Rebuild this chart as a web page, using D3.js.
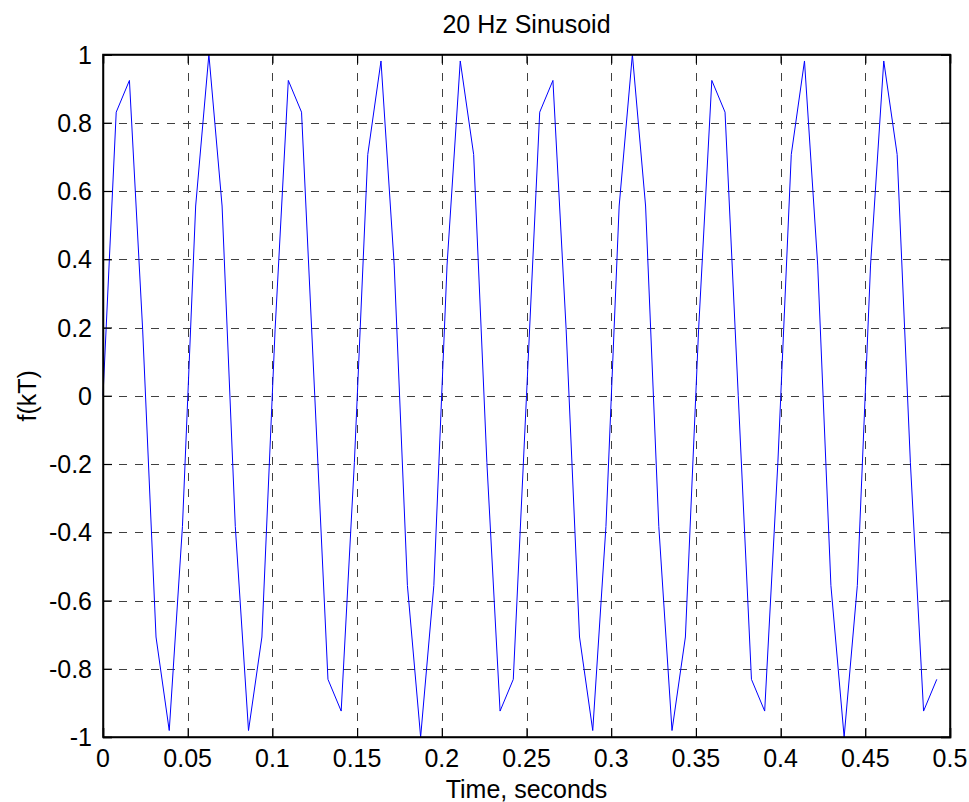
<!DOCTYPE html>
<html>
<head>
<meta charset="utf-8">
<script src="https://cdn.jsdelivr.net/npm/d3@7"></script>
<style>
  html, body { margin: 0; padding: 0; background: #fff; }
  svg { display: block; }
  text { font-family: "Liberation Sans", Arial, Helvetica, sans-serif; fill: #000; }
</style>
</head>
<body>
<svg id="chart" width="969" height="802"></svg>
<script>
// ---- data ----
const title = "20 Hz Sinusoid";
const xLabel = "Time, seconds";
const yLabel = "f(kT)";

const sampleTimes = [
  0, 0.0078, 0.0156, 0.0234, 0.0313, 0.0391, 0.0469, 0.0547,
  0.0625, 0.0703, 0.0781, 0.0859, 0.0938, 0.1016, 0.1094, 0.1172,
  0.125, 0.1328, 0.1406, 0.1484, 0.1563, 0.1641, 0.1719, 0.1797,
  0.1875, 0.1953, 0.2031, 0.2109, 0.2188, 0.2266, 0.2344, 0.2422,
  0.25, 0.2578, 0.2656, 0.2734, 0.2813, 0.2891, 0.2969, 0.3047,
  0.3125, 0.3203, 0.3281, 0.3359, 0.3438, 0.3516, 0.3594, 0.3672,
  0.375, 0.3828, 0.3906, 0.3984, 0.4063, 0.4141, 0.4219, 0.4297,
  0.4375, 0.4453, 0.4531, 0.4609, 0.4688, 0.4766, 0.4844, 0.4922
];

const sampleValues = [
  0, 0.831, 0.924, 0.195, -0.707, -0.981, -0.383, 0.556,
  1, 0.556, -0.383, -0.981, -0.707, 0.195, 0.924, 0.831,
  0, -0.831, -0.924, -0.195, 0.707, 0.981, 0.383, -0.556,
  -1, -0.556, 0.383, 0.981, 0.707, -0.195, -0.924, -0.831,
  0, 0.831, 0.924, 0.195, -0.707, -0.981, -0.383, 0.556,
  1, 0.556, -0.383, -0.981, -0.707, 0.195, 0.924, 0.831,
  0, -0.831, -0.924, -0.195, 0.707, 0.981, 0.383, -0.556,
  -1, -0.556, 0.383, 0.981, 0.707, -0.195, -0.924, -0.831
];

const xTicks = [0, 0.05, 0.1, 0.15, 0.2, 0.25, 0.3, 0.35, 0.4, 0.45, 0.5];
const xTickLabels = ["0", "0.05", "0.1", "0.15", "0.2", "0.25", "0.3", "0.35", "0.4", "0.45", "0.5"];
const yTicks = [-1, -0.8, -0.6, -0.4, -0.2, 0, 0.2, 0.4, 0.6, 0.8, 1];
const yTickLabels = ["-1", "-0.8", "-0.6", "-0.4", "-0.2", "0", "0.2", "0.4", "0.6", "0.8", "1"];

// ---- layout ----
const L = 103, R = 950, T = 54.5, B = 737;
const fontSize = 25;
const tickLen = 9;

const svg = d3.select("#chart");
const x = d3.scaleLinear().domain([0, 0.5]).range([L, R]);
const y = d3.scaleLinear().domain([-1, 1]).range([B, T]);

// grid
const grid = svg.append("g").attr("stroke", "#404040").attr("stroke-width", 1)
  .attr("stroke-dasharray", "8,8").attr("fill", "none");
grid.selectAll("line.vx").data(xTicks.slice(1, -1)).join("line")
  .attr("x1", d => Math.round(x(d)) + 0.5).attr("x2", d => Math.round(x(d)) + 0.5)
  .attr("y1", B).attr("y2", T);
grid.selectAll("line.hy").data(yTicks.slice(1, -1)).join("line")
  .attr("class", "hy")
  .attr("y1", d => Math.round(y(d)) + 0.5).attr("y2", d => Math.round(y(d)) + 0.5)
  .attr("x1", L).attr("x2", R);

// data line
const line = d3.line().x((d, i) => x(sampleTimes[i])).y(d => y(d));
svg.append("path").datum(sampleValues)
  .attr("d", line).attr("fill", "none").attr("stroke", "#0000ff").attr("stroke-width", 1);

// axes (box with inward ticks on all sides)
const xAxisB = d3.axisBottom(x).tickValues(xTicks).tickSize(-tickLen).tickFormat("");
const xAxisT = d3.axisTop(x).tickValues(xTicks).tickSize(-tickLen).tickFormat("");
const yAxisL = d3.axisLeft(y).tickValues(yTicks).tickSize(-tickLen).tickFormat("");
const yAxisR = d3.axisRight(y).tickValues(yTicks).tickSize(-tickLen).tickFormat("");

function styleAxis(g) {
  g.selectAll("path.domain").attr("stroke", "#000").attr("stroke-width", 1.5);
  g.selectAll(".tick line").attr("stroke", "#000").attr("stroke-width", 1.2);
}
svg.append("g").attr("transform", `translate(0,${B})`).call(xAxisB).call(styleAxis);
svg.append("g").attr("transform", `translate(0,${T})`).call(xAxisT).call(styleAxis);
svg.append("g").attr("transform", `translate(${L},0)`).call(yAxisL).call(styleAxis);
svg.append("g").attr("transform", `translate(${R},0)`).call(yAxisR).call(styleAxis);
svg.selectAll("path.domain").each(function() {});
svg.append("rect").attr("x", L).attr("y", T).attr("width", R - L).attr("height", B - T)
  .attr("fill", "none").attr("stroke", "#000").attr("stroke-width", 1.5);

// tick labels
svg.append("g").selectAll("text").data(xTicks).join("text")
  .attr("x", d => x(d)).attr("y", 767)
  .attr("text-anchor", "middle").attr("font-size", fontSize)
  .text((d, i) => xTickLabels[i]);
svg.append("g").selectAll("text").data(yTicks).join("text")
  .attr("x", 92).attr("y", d => y(d)).attr("dy", "0.36em")
  .attr("text-anchor", "end").attr("font-size", fontSize)
  .text((d, i) => yTickLabels[i]);

// title and labels
svg.append("text").attr("x", (L + R) / 2).attr("y", 33)
  .attr("text-anchor", "middle").attr("font-size", fontSize).text(title);
svg.append("text").attr("x", (L + R) / 2).attr("y", 798)
  .attr("text-anchor", "middle").attr("font-size", fontSize).text(xLabel);
svg.append("text").attr("transform", `translate(36,${(T + B) / 2}) rotate(-90)`)
  .attr("text-anchor", "middle").attr("font-size", fontSize).text(yLabel);
</script>
</body>
</html>
